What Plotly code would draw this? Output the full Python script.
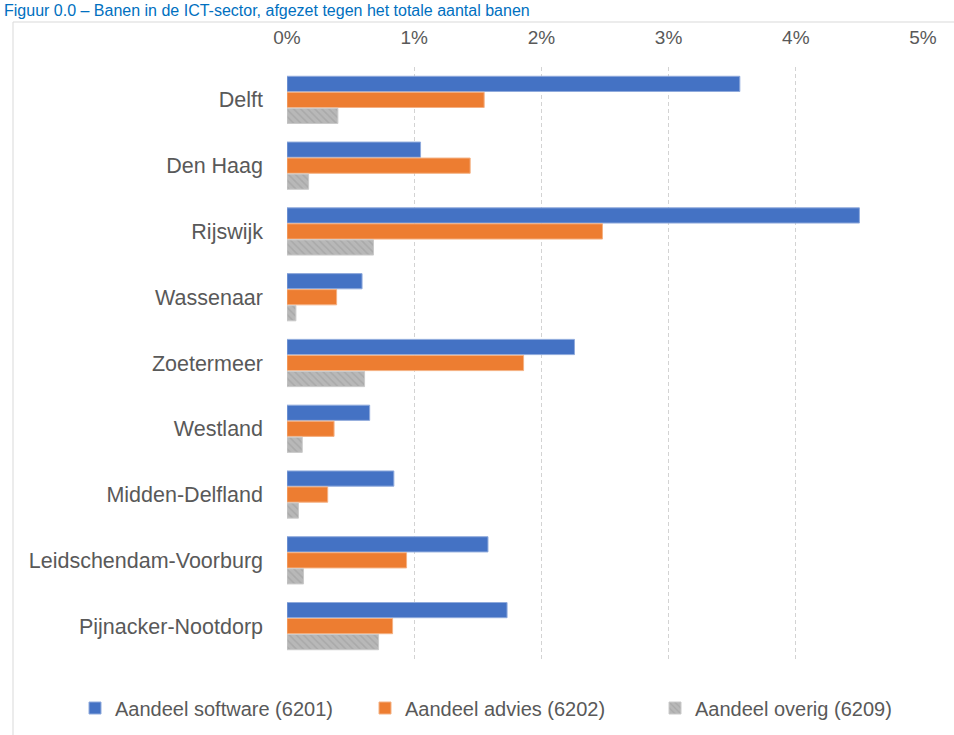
import plotly.graph_objects as go

categories = ["Delft", "Den Haag", "Rijswijk", "Wassenaar", "Zoetermeer", "Westland",
              "Midden-Delfland", "Leidschendam-Voorburg", "Pijnacker-Nootdorp"]
software = [3.56, 1.05, 4.50, 0.59, 2.26, 0.65, 0.84, 1.58, 1.73]
advies = [1.55, 1.44, 2.48, 0.39, 1.86, 0.37, 0.32, 0.94, 0.83]
overig = [0.40, 0.17, 0.68, 0.07, 0.61, 0.12, 0.09, 0.13, 0.72]
series_names = ["Aandeel software (6201)", "Aandeel advies (6202)", "Aandeel overig (6209)"]
tick_vals = [0, 1, 2, 3, 4, 5]
tick_text = ["0%", "1%", "2%", "3%", "4%", "5%"]
title_text = "Figuur 0.0 \u2013 Banen in de ICT-sector, afgezet tegen het totale aantal banen"

FONT = "Liberation Sans"
GRAY_TXT = "#595959"

L, R, T, B = 287, 31, 67, 76
PW, PH = 954 - L - R, 735 - T - B


def px(x):
    return (x - L) / PW


def py(y):
    return (735 - B - y) / PH


fig = go.Figure()
fig.add_trace(go.Bar(y=categories, x=software, orientation="h", name=series_names[0],
                     marker=dict(color="#4472C4", line=dict(color="#8FAADC", width=1))))
fig.add_trace(go.Bar(y=categories, x=advies, orientation="h", name=series_names[1],
                     marker=dict(color="#ED7D31", line=dict(color="#F4B183", width=1))))
fig.add_trace(go.Bar(y=categories, x=overig, orientation="h", name=series_names[2],
                     marker=dict(color="#B8B8B8", line=dict(color="#CACACA", width=1),
                                 pattern=dict(shape="\\", fgcolor="#999999", size=5, solidity=0.3))))

fig.update_layout(
    width=954, height=735,
    margin=dict(l=L, r=R, t=T, b=B, autoexpand=False),
    paper_bgcolor="white", plot_bgcolor="white",
    barmode="group", bargap=0.27, bargroupgap=0.05,
    font=dict(family=FONT, color=GRAY_TXT, size=18),
    showlegend=True,
    legend=dict(orientation="h", x=px(75), xanchor="left", y=py(708), yanchor="middle",
                font=dict(size=20, color=GRAY_TXT), traceorder="normal",
                itemwidth=30, entrywidth=245, entrywidthmode="pixels",
                bgcolor="rgba(0,0,0,0)"),
    xaxis=dict(side="top", range=[0, 5], tickvals=tick_vals, ticktext=tick_text,
               showgrid=True, gridcolor="#D3D3D3", griddash="4px,3px", gridwidth=1,
               zeroline=False, showline=False, ticks="", ticklabelstandoff=18,
               automargin=False, fixedrange=True,
               tickfont=dict(size=19, color=GRAY_TXT)),
    yaxis=dict(autorange="reversed", showgrid=False, zeroline=False, showline=False,
               ticks="", ticklabelstandoff=23, automargin=False, fixedrange=True,
               tickfont=dict(size=21.5, color=GRAY_TXT)),
    shapes=[
        dict(type="rect", xref="paper", yref="paper", x0=px(13), x1=px(965),
             y0=py(745), y1=py(22), line=dict(color="#D9D9D9", width=1),
             fillcolor="rgba(0,0,0,0)", layer="below"),
    ],
    annotations=[
        dict(text=title_text, xref="paper", yref="paper", x=px(2), y=py(0),
             xanchor="left", yanchor="top", showarrow=False,
             font=dict(family="Liberation Sans", size=16, color="#0070C0")),
    ],
)

fig.write_html("out.html", config={"displayModeBar": False},
               post_script="document.body.style.margin='0';document.body.style.padding='0';")
